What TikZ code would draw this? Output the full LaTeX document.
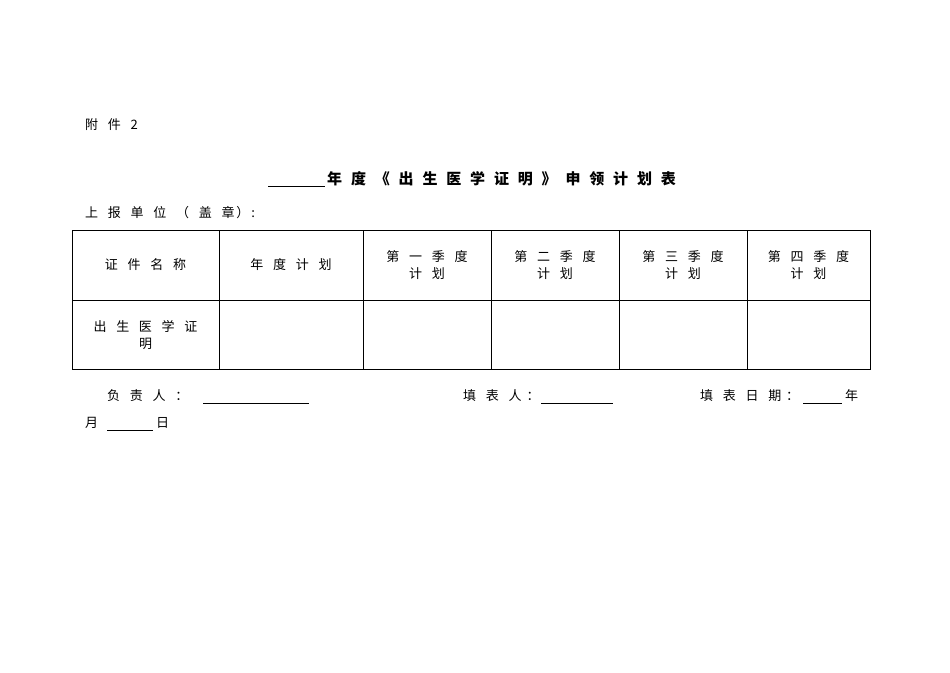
\documentclass[tikz,border=0pt]{standalone}
\usepackage{fontspec}
\setmainfont{Noto Sans CJK SC}[LetterSpace=15]
\newfontfamily\titlefont{Noto Sans CJK SC}[LetterSpace=36]
\begin{document}
\begin{tikzpicture}[x=1pt,y=-1pt,
  t/.style={inner sep=0pt,font=\fontsize{13}{17}\selectfont},
  c/.style={t,align=center},
  l/.style={t,anchor=west},
  ln/.style={line width=0.7pt}]
\useasboundingbox (0,0) rectangle (950,672);
\node[l] (fj) at (85,125) {附 \ 件 \ 2};
\node[t,font=\fontsize{15}{18}\titlefont\bfseries,anchor=west] (title) at (327,179) {年 度 《 出 生 医 学 证 明 》 申 领 计 划 表};
\coordinate (u1) at (268,186); \coordinate (u2) at (325,186);
\draw[ln] (u1) -- (u2);
\node[l] (unit) at (85,213) {上 \ 报 \ 单 \ 位 \ （ \ 盖 \ 章）:};
\draw[line width=0.8pt] (72,230) rectangle (870,369);
\draw[line width=0.6pt] (72,300) -- (870,300);
\foreach \x in {219,363,491,619,747} \draw[line width=0.6pt] (\x,230) -- (\x,369);
\node[c] (h1) at (145.5,265) {证 \ 件 \ 名 \ 称};
\node[c] (h2) at (291,265) {年 \ 度 \ 计 \ 划};
\node[c] (h3) at (427,265) {第 \ 一 \ 季 \ 度\\计 \ 划};
\node[c] (h4) at (555,265) {第 \ 二 \ 季 \ 度\\计 \ 划};
\node[c] (h5) at (683,265) {第 \ 三 \ 季 \ 度\\计 \ 划};
\node[c] (h6) at (808.5,265) {第 \ 四 \ 季 \ 度\\计 \ 划};
\node[c] (r1) at (145.5,335) {出 \ 生 \ 医 \ 学 \ 证\\明};
\node[l] (fz) at (107,396) {负 \ 责 \ 人 \ ：};
\draw[ln] (203,403) -- (309,403);
\node[l] (tb) at (463,396) {填 \ 表 \ 人 ：};
\draw[ln] (541,403) -- (613,403);
\node[l] (rq) at (700,396) {填 \ 表 \ 日 \ 期 ：};
\draw[ln] (803,403) -- (842,403);
\node[l] (yr) at (845,396) {年};
\node[l] (mo) at (85,423) {月};
\draw[ln] (107,430) -- (153,430);
\node[l] (dy) at (156,423) {日};
\end{tikzpicture}
\end{document}
